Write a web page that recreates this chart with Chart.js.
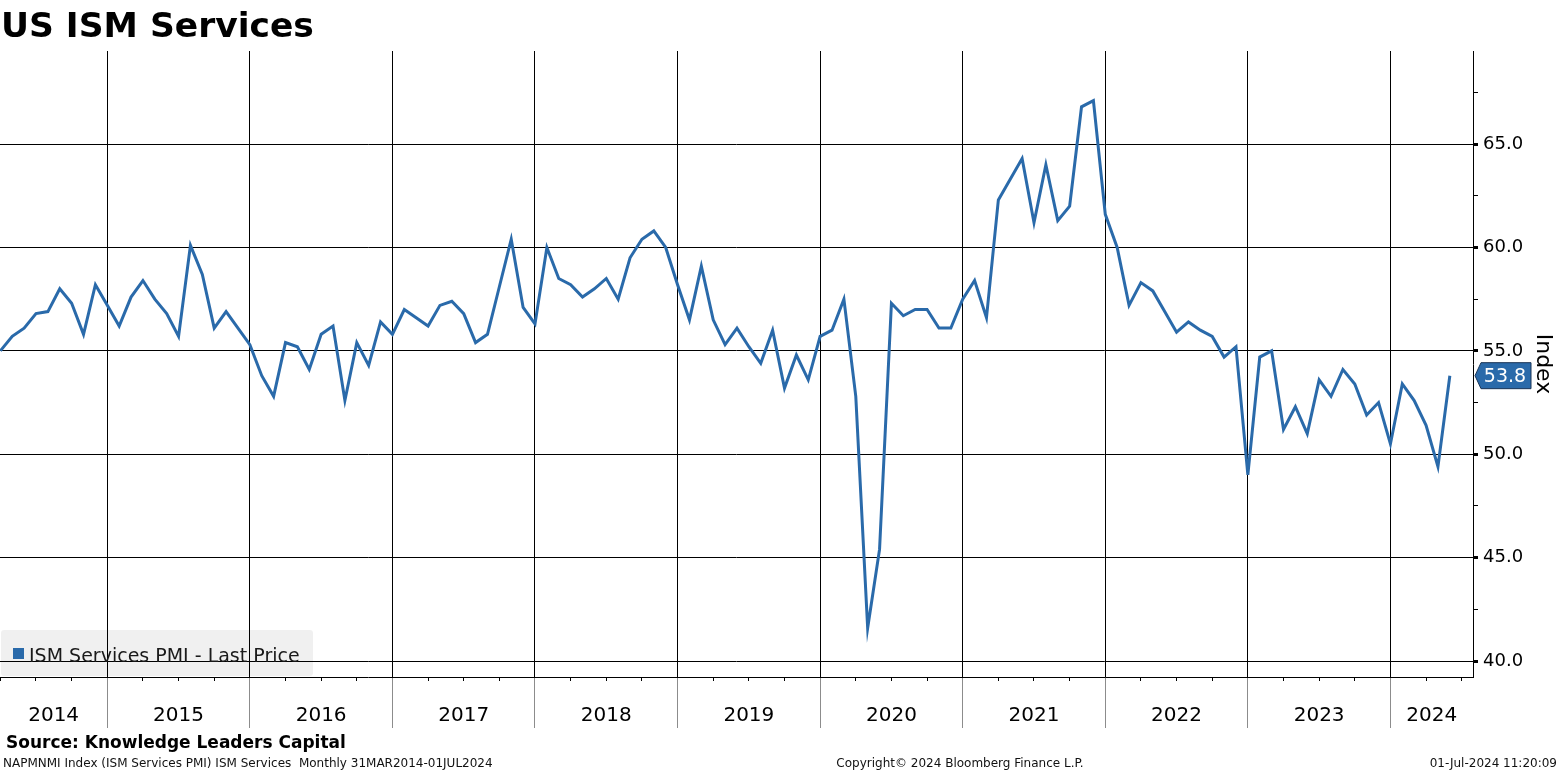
<!DOCTYPE html>
<html>
<head>
<meta charset="utf-8">
<title>US ISM Services</title>
<script src="https://cdn.jsdelivr.net/npm/chart.js@4.4.1/dist/chart.umd.min.js"></script>
<style>
  html, body { margin: 0; padding: 0; background: #fff; }
  body { width: 1561px; height: 771px; position: relative; overflow: hidden; font-family: "DejaVu Sans", sans-serif; color: #000; }
  #chart { position: absolute; left: 0; top: 0; }
  .txt { position: absolute; line-height: 1; white-space: nowrap; }
  .title { left: 1px; top: 8px; font-size: 34.5px; font-weight: bold; }
  .legend { position: absolute; left: 1px; top: 630px; width: 312px; height: 46px; background: rgba(0, 0, 0, 0.06); border-radius: 3px; }
  .legend .swatch { position: absolute; left: 12px; top: 18px; width: 11px; height: 11px; background: #2a6aaa; }
  .legend .label { left: 28px; top: 16px; font-size: 19px; color: #1a1a1a; }
  .source { left: 6px; top: 734px; font-size: 17px; font-weight: bold; }
  .foot { top: 757px; font-size: 12px; color: #111; }
</style>
</head>
<body>
<canvas id="chart" width="1561" height="771"></canvas>
<div class="txt title">US ISM Services</div>
<div class="legend"><div class="swatch"></div><div class="txt label">ISM Services PMI - Last Price</div></div>
<div class="txt source">Source: Knowledge Leaders Capital</div>
<div class="txt foot" style="left:3px">NAPMNMI Index (ISM Services PMI) ISM Services&nbsp; Monthly 31MAR2014-01JUL2024</div>
<div class="txt foot" style="left:960px; transform:translateX(-50%)">Copyright© 2024 Bloomberg Finance L.P.</div>
<div class="txt foot" style="right:4px">01-Jul-2024 11:20:09</div>

<script>
// monthly ISM Services PMI, month-end points from Mar-2014 to May-2024
const firstMonth = 3; // months after 1-Jan-2014 (end of March)
const pmiValues = [
  // 2014 (Mar-Dec)
  55.0, 55.7, 56.1, 56.8, 56.9, 58.0, 57.3, 55.8, 58.2, 57.2,
  // 2015
  56.2, 57.6, 58.4, 57.5, 56.8, 55.7, 60.1, 58.7, 56.1, 56.9, 56.1, 55.3,
  // 2016
  53.8, 52.8, 55.4, 55.2, 54.1, 55.8, 56.2, 52.6, 55.4, 54.3, 56.4, 55.8,
  // 2017
  57.0, 56.6, 56.2, 57.2, 57.4, 56.8, 55.4, 55.8, 58.1, 60.4, 57.1, 56.3,
  // 2018
  60.0, 58.5, 58.2, 57.6, 58.0, 58.5, 57.5, 59.5, 60.4, 60.8, 60.0, 58.2,
  // 2019
  56.5, 59.1, 56.5, 55.3, 56.1, 55.2, 54.4, 56.0, 53.2, 54.8, 53.6, 55.7,
  // 2020
  56.0, 57.5, 52.8, 41.6, 45.4, 57.3, 56.7, 57.0, 57.0, 56.1, 56.1, 57.5,
  // 2021
  58.4, 56.6, 62.3, 63.3, 64.3, 61.2, 64.0, 61.3, 62.0, 66.8, 67.1, 61.6,
  // 2022
  60.0, 57.2, 58.3, 57.9, 56.9, 55.9, 56.4, 56.0, 55.7, 54.7, 55.2, 49.0,
  // 2023
  54.7, 55.0, 51.2, 52.3, 51.0, 53.6, 52.8, 54.1, 53.4, 51.9, 52.5, 50.5,
  // 2024
  53.4, 52.6, 51.4, 49.4, 53.8
];
const yearLabels = ["2014", "2015", "2016", "2017", "2018", "2019", "2020", "2021", "2022", "2023", "2024"];
const yMajorTicks = [40, 45, 50, 55, 60, 65];
const yMinorTicks = [42.5, 47.5, 52.5, 57.5, 62.5, 67.5];

const X_MIN = 2.97, X_MAX = 126.95;
const Y_MIN = 39.23, Y_MAX = 69.5;
const lineColor = "#2a6aaa";

Chart.defaults.font.family = '"DejaVu Sans", sans-serif';
Chart.defaults.color = "#000";

const points = pmiValues.map((v, i) => ({ x: firstMonth + i, y: v }));

// tick positions in months from 1-Jan-2014
const quarterTicks = [];
for (let m = Math.ceil(X_MIN / 3) * 3; m <= X_MAX; m += 3) quarterTicks.push(m);
const yearTicks = quarterTicks.filter((m) => m % 12 === 0);
const labelTicks = yearLabels.map((_, k) => {
  const start = Math.max(k * 12, X_MIN);
  const end = Math.min((k + 1) * 12, X_MAX);
  return (start + end) / 2;
});

const isYear = (c) => c.tick && c.tick.value % 12 === 0;
const isMajor = (c) => c.tick && yMajorTicks.includes(c.tick.value);

// blue tag with the last value on the right axis
const lastTag = {
  id: "lastTag",
  afterDraw(chart) {
    const ctx = chart.ctx;
    const right = chart.chartArea.right;
    const last = pmiValues[pmiValues.length - 1];
    const py = chart.scales.y.getPixelForValue(last);
    ctx.save();
    ctx.beginPath();
    ctx.moveTo(right + 2, py);
    ctx.lineTo(right + 8, py - 13);
    ctx.lineTo(right + 58, py - 13);
    ctx.lineTo(right + 58, py + 13);
    ctx.lineTo(right + 8, py + 13);
    ctx.closePath();
    ctx.fillStyle = lineColor;
    ctx.fill();
    ctx.strokeStyle = "#1a3556";
    ctx.lineWidth = 1;
    ctx.stroke();
    ctx.fillStyle = "#fff";
    ctx.font = '19px "DejaVu Sans", sans-serif';
    ctx.textAlign = "center";
    ctx.textBaseline = "middle";
    ctx.fillText(last.toFixed(1), right + 32, py + 1);
    ctx.restore();
  },
};

new Chart(document.getElementById("chart"), {
  type: "line",
  data: {
    datasets: [
      {
        label: "ISM Services PMI - Last Price",
        data: points,
        borderColor: lineColor,
        borderWidth: 3,
        pointRadius: 0,
        tension: 0,
        xAxisID: "x",
        yAxisID: "y",
      },
    ],
  },
  options: {
    responsive: false,
    animation: false,
    devicePixelRatio: 1,
    layout: { padding: { top: 51, left: 0, right: 0, bottom: 0 } },
    plugins: { legend: { display: false }, tooltip: { enabled: false } },
    scales: {
      x: {
        type: "linear",
        position: "bottom",
        weight: 0,
        min: X_MIN,
        max: X_MAX,
        afterBuildTicks: (s) => { s.ticks = quarterTicks.map((v) => ({ value: v })); },
        ticks: { display: false },
        grid: {
          color: (c) => (isYear(c) ? "#000" : "rgba(0,0,0,0)"),
          lineWidth: 1,
          tickColor: (c) => (isYear(c) ? "rgba(0,0,0,0)" : "#000"),
          tickLength: 4,
        },
        border: { display: true, color: "#000", width: 1 },
        afterFit: (s) => { s.height = 0; },
      },
      xs: {
        type: "linear",
        position: "bottom",
        weight: 1,
        min: X_MIN,
        max: X_MAX,
        afterBuildTicks: (s) => { s.ticks = yearTicks.map((v) => ({ value: v })); },
        ticks: { display: false },
        grid: { drawOnChartArea: false, tickColor: "#8c8c8c", tickLength: 51, lineWidth: 1 },
        border: { display: false },
        afterFit: (s) => { s.height = 0; },
      },
      xl: {
        type: "linear",
        position: "bottom",
        weight: 2,
        min: X_MIN,
        max: X_MAX,
        afterBuildTicks: (s) => { s.ticks = labelTicks.map((v) => ({ value: v })); },
        ticks: {
          callback: (v, i) => yearLabels[i],
          font: { size: 20 },
          color: "#000",
          padding: 27,
          maxRotation: 0,
          autoSkip: false,
        },
        grid: { display: false, drawTicks: false },
        border: { display: false },
        afterFit: (s) => { s.height = 94; },
      },
      y: {
        type: "linear",
        position: "right",
        min: Y_MIN,
        max: Y_MAX,
        afterBuildTicks: (s) => {
          s.ticks = [...yMajorTicks, ...yMinorTicks].sort((a, b) => a - b).map((v) => ({ value: v }));
        },
        ticks: {
          callback: (v) => (yMajorTicks.includes(v) ? v.toFixed(1) : ""),
          font: { size: 18 },
          color: "#000",
          padding: 5,
          autoSkip: false,
        },
        grid: {
          color: (c) => (isMajor(c) ? "#000" : "rgba(0,0,0,0)"),
          lineWidth: 1,
          tickColor: "#000",
          tickLength: 5,
          tickWidth: (c) => (isMajor(c) ? 3 : 1),
        },
        border: { display: true, color: "#000", width: 1 },
        title: { display: true, text: "Index", font: { size: 22 }, color: "#000", padding: { top: 5, bottom: 0 } },
        afterFit: (s) => { s.width = 88; },
      },
    },
  },
  plugins: [lastTag],
});
</script>
</body>
</html>
